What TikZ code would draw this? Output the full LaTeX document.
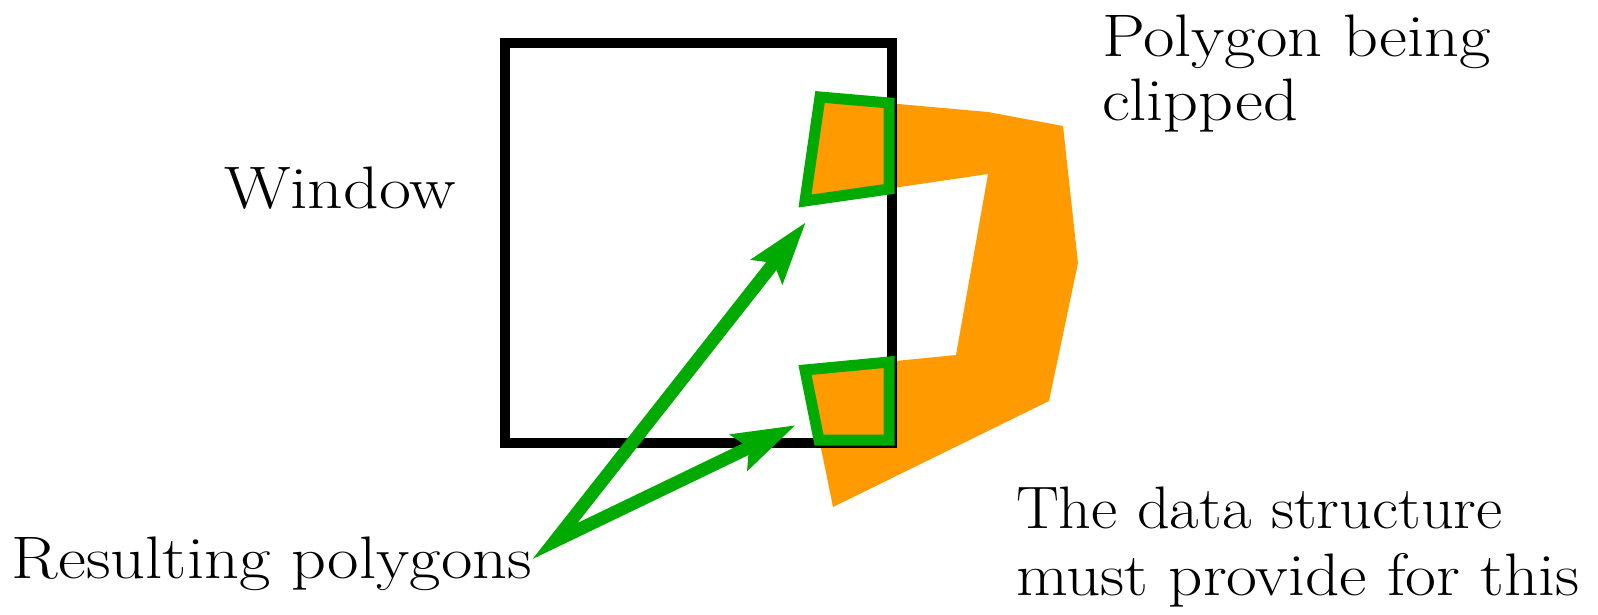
\documentclass[tikz,border=0pt]{standalone}
\usepackage{fontspec}
\usetikzlibrary{arrows.meta}
\definecolor{clipgreen}{RGB}{0,170,0}
\definecolor{polyorange}{RGB}{255,155,0}
\newcommand{\wide}[2]{\scalebox{#1}[1]{#2}}
\tikzset{
  lbl/.style={anchor=base west, inner sep=0pt, outer sep=0pt, font=\fontsize{60}{66}\selectfont},
  winbox/.style={draw=black, line width=10pt, line join=miter, inner sep=0pt, outer sep=0pt},
  piece/.style={draw=clipgreen, line width=11pt, line join=miter},
  ptr/.style={draw=clipgreen, line width=13pt, line join=miter,
    {Stealth[length=62pt,width=38pt,inset=10pt]}-{Stealth[length=62pt,width=38pt,inset=10pt]}}
}
\begin{document}
\begin{tikzpicture}[x=1pt,y=-1pt]
\useasboundingbox (0,0) rectangle (1598,615);
% polygon being clipped
\fill[polyorange] (820,97) -- (988,112) -- (1063,126) -- (1078,263) -- (1049,401)
  -- (833,507) -- (805,370) -- (956,355) -- (988,174) -- (805,201) -- cycle;
% window
\node[winbox, minimum width=387pt, minimum height=400pt, anchor=north west] (win) at (505,43) {};
% resulting polygons
\draw[piece] (820,97) -- (889,103) -- (889,189) -- (805,201) -- cycle;
\draw[piece] (805,370) -- (889,362) -- (889,440) -- (819,440) -- cycle;
% labels
\node[lbl] (clip1) at (1102,57) {\wide{1.14}{Polygon being}};
\node[lbl] (clip2) at (1102,121) {\wide{1.14}{clipped}};
\node[lbl] (wlabel) at (224,208) {\wide{1.16}{Window}};
\node[lbl] (res) at (12,578) {\wide{1.14}{Resulting polygons}};
\node[lbl] (ds1) at (1016,528) {\wide{1.07}{The data structure}};
\node[lbl] (ds2) at (1016,595) {\wide{1.12}{must provide for this}};
% arrows
\coordinate (src) at (555,541);
\coordinate (tip1) at (806,222);
\coordinate (tip2) at (796,425);
\draw[ptr] (tip1) -- (src) -- (tip2);
\end{tikzpicture}
\end{document}
